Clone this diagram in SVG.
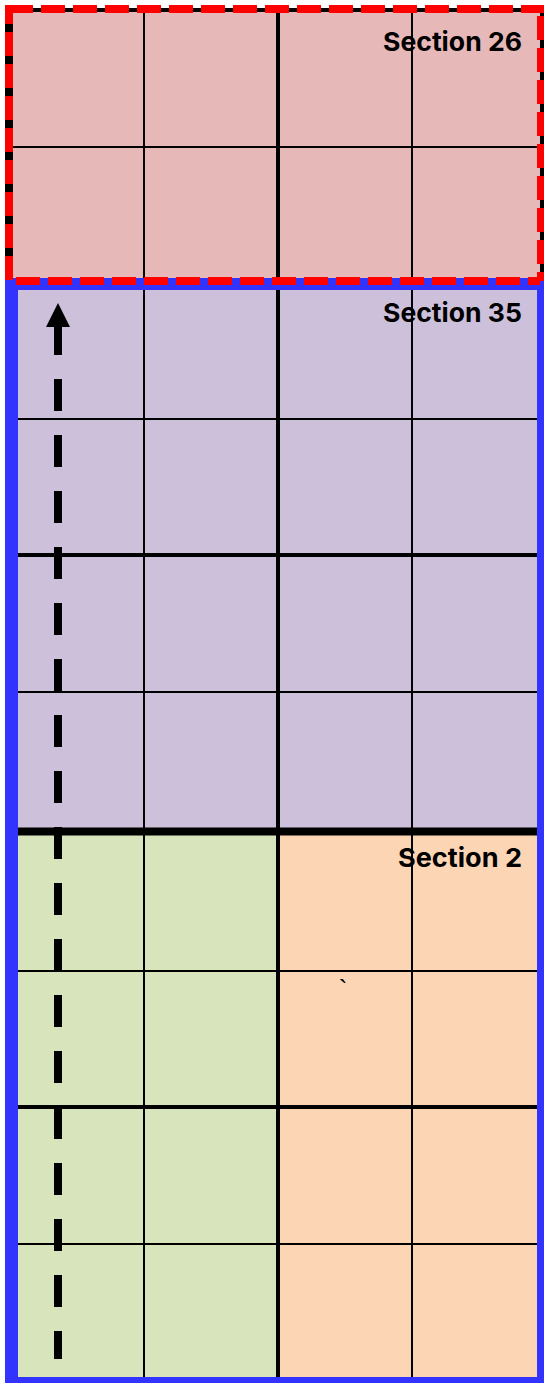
<svg xmlns="http://www.w3.org/2000/svg" width="544" height="1383" viewBox="0 0 544 1383">
<style>
.thin{stroke:#000;stroke-width:2}
.thick{stroke:#000;stroke-width:4}
.red{stroke:#FF0000;stroke-width:8;stroke-dasharray:24 8;fill:none}
.lbl{font-family:Inter,"Liberation Sans",Arial,sans-serif;font-weight:bold;font-size:26px;fill:#000;text-anchor:end}
</style>
<rect width="544" height="1383" fill="#fff"/>
<g id="section26">
<rect x="5" y="8" width="539" height="275" fill="#000"/>
<rect x="13" y="12" width="527" height="268" fill="#E6B8B7"/>
<line class="thin" x1="144" y1="12" x2="144" y2="281"/>
<line class="thick" x1="278" y1="12" x2="278" y2="281"/>
<line class="thin" x1="412" y1="12" x2="412" y2="281"/>
<line class="thin" x1="13" y1="147" x2="540" y2="147"/>
<text class="lbl" x="522" y="51" textLength="139" lengthAdjust="spacingAndGlyphs">Section 26</text>
</g>
<g id="blueFrame">
<rect x="5" y="278" width="539" height="1105" fill="#3333FF"/>
</g>
<g id="section35">
<rect x="18" y="290" width="519" height="541" fill="#CCC0DA"/>
</g>
<g id="greenArea">
<rect x="18" y="831" width="260" height="546" fill="#D8E4BC"/>
</g>
<g id="section2">
<rect x="278" y="831" width="259" height="546" fill="#FCD5B4"/>
</g>
<g id="grid">
<line class="thin" x1="144" y1="290" x2="144" y2="1377"/>
<line class="thick" x1="278" y1="290" x2="278" y2="1377"/>
<line class="thin" x1="412" y1="290" x2="412" y2="1377"/>
<line class="thin" x1="18" y1="419" x2="537" y2="419"/>
<line class="thick" x1="18" y1="555" x2="537" y2="555"/>
<line class="thin" x1="18" y1="692" x2="537" y2="692"/>
<line stroke="#000" stroke-width="8" x1="18" y1="831.5" x2="537" y2="831.5"/>
<line class="thin" x1="18" y1="971" x2="537" y2="971"/>
<line class="thick" x1="18" y1="1107" x2="537" y2="1107"/>
<line class="thin" x1="18" y1="1244" x2="537" y2="1244"/>
</g>
<g id="labels">
<text class="lbl" x="522" y="322" textLength="139" lengthAdjust="spacingAndGlyphs">Section 35</text>
<text class="lbl" x="522" y="867" textLength="124" lengthAdjust="spacingAndGlyphs">Section 2</text>
<text x="343" y="998" font-family="Liberation Sans, Arial, sans-serif" font-size="26" text-anchor="middle">`</text>
</g>
<g id="redBorder">
<line class="red" x1="9" y1="9" x2="544" y2="9"/>
<line class="red" x1="9" y1="5" x2="9" y2="281" stroke-dashoffset="5"/>
<line class="red" x1="9" y1="281" x2="540" y2="281" stroke-dashoffset="25"/>
<line class="red" x1="541" y1="9" x2="541" y2="281" stroke-dashoffset="25"/>
</g>
<g id="connectors">
<line x1="58" y1="323" x2="58" y2="1359" stroke="#000" stroke-width="8" stroke-dasharray="32 24"/>
<polygon points="58,303 46,327 70,327" fill="#000"/>
</g>
</svg>
